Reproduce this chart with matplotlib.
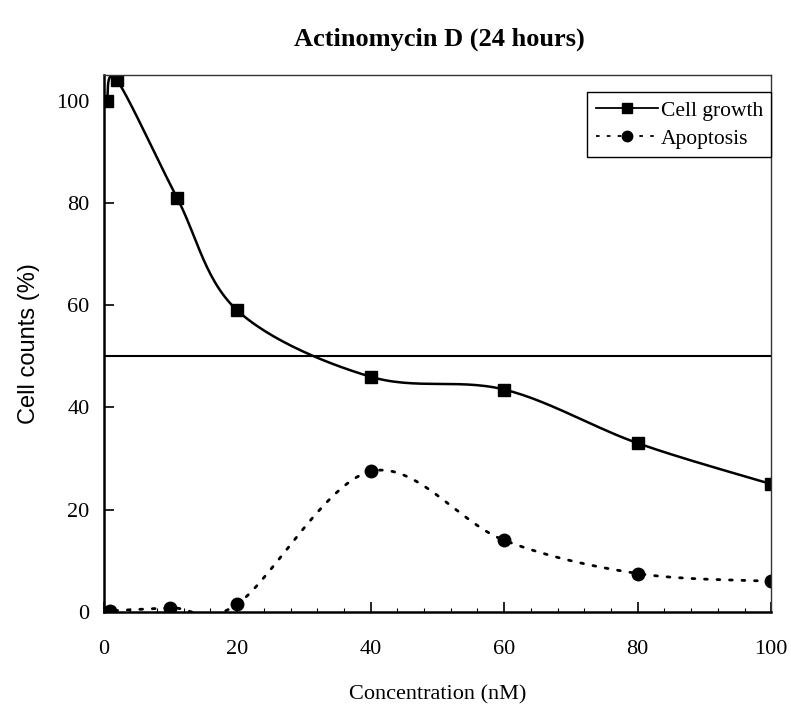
import matplotlib
matplotlib.use('Agg')
import matplotlib.pyplot as plt
from matplotlib.ticker import MultipleLocator
import numpy as np

# values
conc_growth = [0.5, 2, 11, 20, 40, 60, 80, 100]
cell_growth = [100, 104, 81, 59, 46, 43.5, 33, 25]
conc_apop = [0, 1, 10, 20, 40, 60, 80, 100]
apoptosis = [0, 0.2, 0.8, 1.5, 27.5, 14, 7.5, 6]
half_line = 50


def smooth(x, y, n=30):
    # spreadsheet style smoothing (cubic bezier, catmull-rom control points)
    x = np.asarray(x, float)
    y = np.asarray(y, float)
    sx, sy = 6.66, 5.11  # px per unit, so the curve bends as on screen
    px, py = x * sx, y * sy
    xs, ys = [], []
    for i in range(len(x) - 1):
        i0 = max(i - 1, 0)
        i3 = min(i + 2, len(x) - 1)
        c1 = (px[i] + (px[i + 1] - px[i0]) / 6, py[i] + (py[i + 1] - py[i0]) / 6)
        c2 = (px[i + 1] - (px[i3] - px[i]) / 6, py[i + 1] - (py[i3] - py[i]) / 6)
        t = np.linspace(0, 1, n)
        bx = (1-t)**3*px[i] + 3*(1-t)**2*t*c1[0] + 3*(1-t)*t**2*c2[0] + t**3*px[i+1]
        by = (1-t)**3*py[i] + 3*(1-t)**2*t*c1[1] + 3*(1-t)*t**2*c2[1] + t**3*py[i+1]
        xs.extend(bx / sx)
        ys.extend(by / sy)
    return np.array(xs), np.array(ys)


plt.rcParams['font.family'] = 'Liberation Serif'

fig = plt.figure(figsize=(7.91, 7.09), dpi=100)
ax = fig.add_axes([0.131, 0.137, 0.844, 0.757])

gx, gy = smooth(conc_growth, cell_growth)
ax.plot(gx, gy, color='black', lw=1.8, solid_capstyle='round')
ax.plot(conc_growth, cell_growth, ls='none', marker='s', ms=9, color='black')

axx, ayy = smooth(conc_apop, apoptosis)
ax.plot(axx, ayy, color='black', lw=2, ls=(0, (1, 3.5)), dash_capstyle='round')
ax.plot(conc_apop, apoptosis, ls='none', marker='o', ms=9, color='black')

ax.axhline(half_line, color='black', lw=1.5)

# legend proxies
h1, = ax.plot([], [], color='black', lw=1.3, marker='s', ms=7.5)
h2, = ax.plot([], [], color='black', lw=1.3, ls=(0, (2, 4)), marker='o', ms=7.5)
leg = ax.legend([h1, h2], ['Cell growth', 'Apoptosis'], loc='upper right',
                bbox_to_anchor=(1.01, 0.98), fontsize=15.5, handlelength=2.9,
                handletextpad=0.1, borderpad=0.4, labelspacing=0.35,
                fancybox=False, framealpha=1, borderaxespad=0.3)
leg.get_frame().set_edgecolor('black')
leg.get_frame().set_linewidth(1.0)

ax.set_xlim(0, 100)
ax.set_ylim(0, 105)
ax.xaxis.set_major_locator(MultipleLocator(20))
ax.xaxis.set_minor_locator(MultipleLocator(4))
ax.yaxis.set_major_locator(MultipleLocator(20))
ax.tick_params(axis='both', which='major', direction='in', length=7, width=1.2,
               labelsize=16)
ax.tick_params(axis='x', which='major', pad=20)
ax.tick_params(axis='x', which='minor', direction='in', length=3, width=0.8)
ax.tick_params(axis='y', which='major', pad=10)

for side in ['left', 'bottom']:
    ax.spines[side].set_linewidth(1.8)
for side in ['top', 'right']:
    ax.spines[side].set_linewidth(1.0)
    ax.spines[side].set_color('#333333')

ax.set_xlabel('Concentration (nM)', fontsize=16, labelpad=19)
ax.set_ylabel('Cell counts (%)', fontsize=17, family='Liberation Sans', labelpad=12)
fig.text(0.556, 0.945, 'Actinomycin D (24 hours)', ha='center', va='center',
         fontsize=19, fontweight='bold')

fig.savefig('out.png', dpi=100)
